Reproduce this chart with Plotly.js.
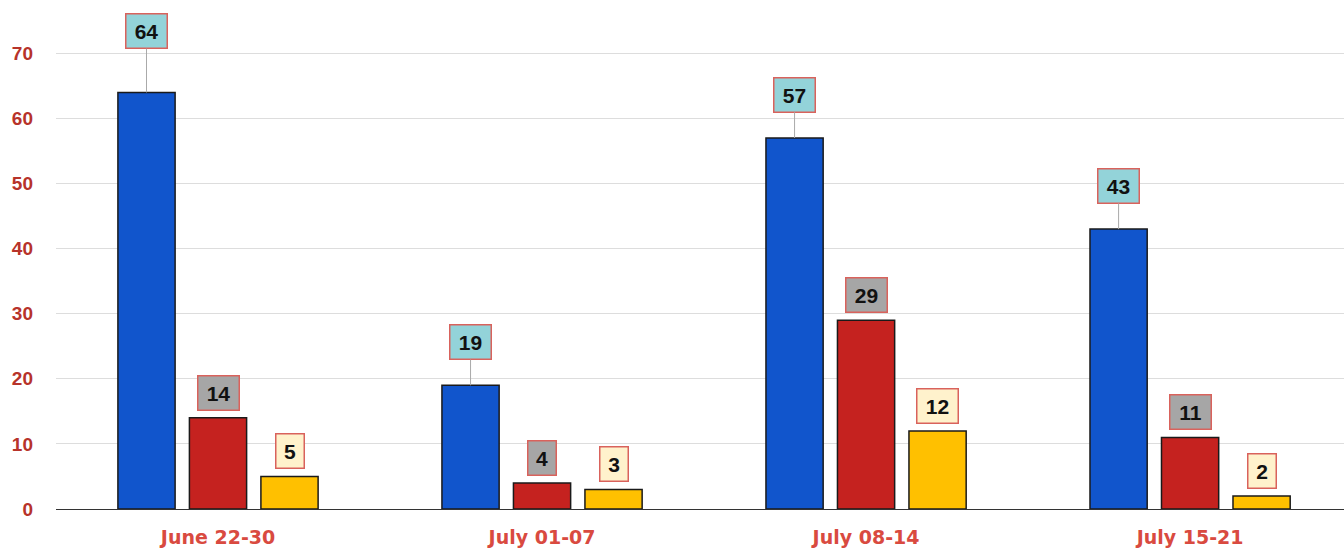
<!DOCTYPE html>
<html><head><meta charset="utf-8">
<script src="https://cdn.plot.ly/plotly-3.0.1.min.js"></script>
<style>html,body{margin:0;padding:0;background:#fff}#chart{width:1344px;height:550px}</style>
</head><body><div id="chart"></div>
<script>
const categories = ["June 22-30", "July 01-07", "July 08-14", "July 15-21"];
const seriesA = [64, 19, 57, 43];
const seriesB = [14, 4, 29, 11];
const seriesC = [5, 3, 12, 2];

const barColors = ["#1155cc", "#c5221f", "#ffc000"];
const labelBg = ["#93d3d9", "#a6a6a6", "#fff2cc"];
const allSeries = [seriesA, seriesB, seriesC];

const bargap = 0.338, bargroupgap = 0.2;
const slot = (1 - bargap) / allSeries.length;

const traces = allSeries.map((vals, i) => ({
  type: "bar", x: categories, y: vals,
  marker: {color: barColors[i], line: {color: "#1a1a1a", width: 1.5}},
  hoverinfo: "none"
}));

const annotations = [];
allSeries.forEach((vals, i) => {
  vals.forEach((v, k) => {
    const txt = String(v);
    const ann = {
      x: k + (i - 1) * slot, y: v, xref: "x", yref: "y",
      text: "<b>" + txt + "</b>",
      font: {family: "Liberation Sans, Arial, sans-serif", size: 21, color: "#111"},
      bgcolor: labelBg[i], bordercolor: "#d9625c", borderwidth: 1.5, borderpad: 3,
      width: txt.length > 1 ? 34 : 21, height: 27
    };
    if (i === 0) {
      ann.showarrow = true; ann.arrowhead = 0; ann.arrowwidth = 1; ann.arrowcolor = "#aaaaaa";
      ann.ax = 0; ann.ay = (v > 60 ? -61 : -43);
    } else {
      ann.showarrow = false; ann.yanchor = "bottom"; ann.yshift = 7;
    }
    annotations.push(ann);
  });
});

const layout = {
  width: 1344, height: 550,
  margin: {l: 56, r: 0, t: 0, b: 41},
  paper_bgcolor: "#ffffff", plot_bgcolor: "#ffffff",
  barmode: "group", bargap: bargap, bargroupgap: bargroupgap,
  showlegend: false,
  font: {family: "Liberation Sans, Arial, sans-serif"},
  xaxis: {
    type: "category", range: [-0.5, 3.475],
    showgrid: false, zeroline: false, showline: true, linecolor: "#333", linewidth: 1.2,
    ticks: "", ticklabelstandoff: 11,
    tickfont: {family: "DejaVu Sans, sans-serif", size: 19, color: "#d94a40", weight: "bold"}
  },
  yaxis: {
    range: [0, 78.2], tickvals: [0, 10, 20, 30, 40, 50, 60, 70],
    showgrid: true, gridcolor: "#dddddd", gridwidth: 1, zeroline: false,
    ticks: "", ticklabelstandoff: 22,
    tickfont: {family: "Liberation Sans, Arial, sans-serif", size: 19, color: "#b7332a", weight: "bold"}
  },
  annotations: annotations
};
Plotly.newPlot("chart", traces, layout, {displayModeBar: false, staticPlot: true});
</script></body></html>
